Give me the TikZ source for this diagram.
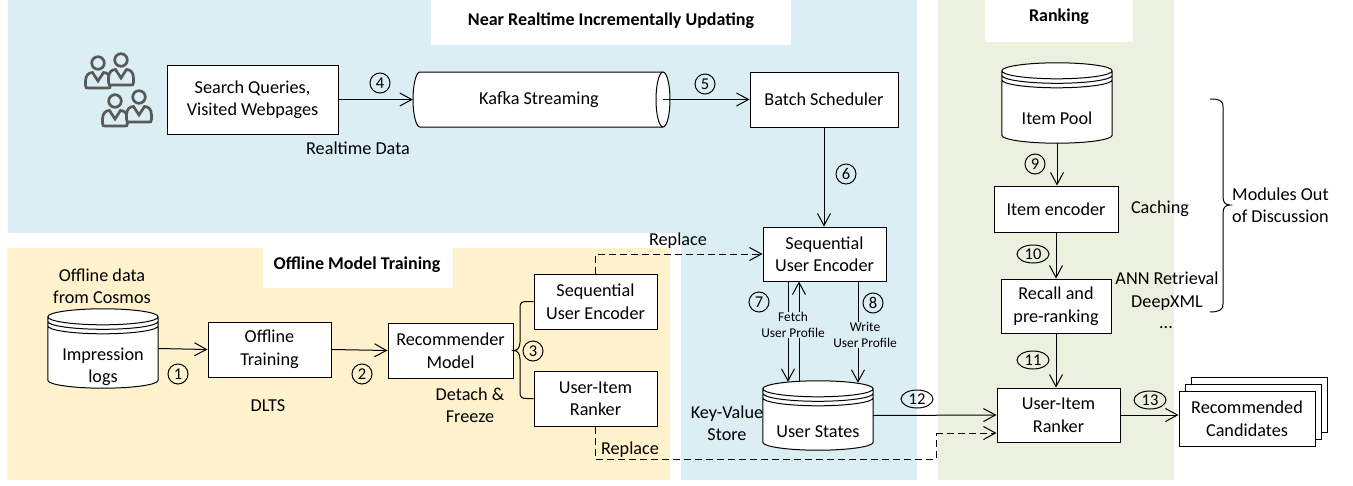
\documentclass[tikz,border=0pt]{standalone}
\usepackage{fontspec}
\setmainfont{Carlito}
\usetikzlibrary{arrows.meta,calc,shapes.geometric}
\definecolor{bluebg}{HTML}{DAEEF3}
\definecolor{yelbg}{HTML}{FFF2CC}
\definecolor{grnbg}{HTML}{EBF1DE}
\definecolor{icongray}{HTML}{595959}
\newcommand{\fmain}{\fontsize{18.2}{22.5}\selectfont}
\newcommand{\fsmall}{\fontsize{13.4}{15.5}\selectfont}
\newcommand{\fbold}{\fontsize{18}{22}\selectfont\bfseries}
\newcommand{\fnum}{\fontsize{16.5}{16.5}\selectfont}
\newcommand{\DBcyl}[1]{%
  \draw[line width=1pt, fill=white] let \p1=(#1.north west), \p2=(#1.south east), \n1={(\x2-\x1)/2} in
    (\x1,\y1-8pt) -- (\x1,\y2+8pt)
    arc[start angle=180, end angle=360, x radius=\n1, y radius=8pt]
    -- (\x2,\y1-8pt)
    arc[start angle=0, end angle=180, x radius=\n1, y radius=8pt] -- cycle
    (\x1,\y1-8pt) arc[start angle=180, end angle=360, x radius=\n1, y radius=8pt]
    (\x1,\y1-12.5pt) arc[start angle=180, end angle=360, x radius=\n1, y radius=8pt]
    (\x1,\y1-17pt) arc[start angle=180, end angle=360, x radius=\n1, y radius=8pt];
}
\tikzset{
  box/.style={draw, line width=1pt, fill=white, align=center, font=\fmain, inner sep=0},
  lbl/.style={align=center, font=\fmain, inner sep=0},
  slbl/.style={align=center, font=\fsmall, inner sep=1pt, fill=bluebg},
  ttl/.style={font=\fbold, inner sep=0},
  numc/.style={draw, circle, line width=1pt, minimum size=20, inner sep=0, font=\fnum},
  nume/.style={draw, ellipse, line width=1pt, minimum width=32, minimum height=18, inner sep=0, font=\fnum},
  arr/.style={line width=1pt, -{Straight Barb[length=12pt,width=13pt]}},
  conn/.style={line width=1pt},
  dasharr/.style={line width=1pt, dash pattern=on 7pt off 4pt, -{Straight Barb[length=12pt,width=13pt]}},
  dashln/.style={line width=1pt, dash pattern=on 7pt off 4pt},
  cylbase/.style={inner sep=0},
  person/.pic={
    \draw[icongray, line width=2.7pt, fill=bluebg] (-12.5,22) -- (-12.5,18) .. controls (-12.5,12) and (-9,9.5) .. (-5.5,9.5) -- (0,18) -- (5.5,9.5) .. controls (9,9.5) and (12.5,12) .. (12.5,18) -- (12.5,22) .. controls (12.5,25) and (11.5,25) .. (10,25) -- (-10,25) .. controls (-11.5,25) and (-12.5,25) .. (-12.5,22) -- cycle;
    \draw[icongray, line width=2.7pt, fill=bluebg] (0,0) circle[radius=6.3pt];
  }
}
\begin{document}
\begin{tikzpicture}[x=1pt,y=-1pt]
\useasboundingbox (0,0) rectangle (1353,485);
% backgrounds
\fill[bluebg] (8,0) rectangle (917,233);
\fill[bluebg] (681,233) rectangle (917,480);
\fill[yelbg] (7,248) rectangle (670,480);
\fill[grnbg] (938,0) rectangle (1174,480);
\fill[white] (431,0) rectangle (791,45);
\fill[white] (263,248) rectangle (453,288);
\fill[white] (985,0) rectangle (1133,42);
\node[ttl] (t1) at (611,21) {Near Realtime Incrementally Updating};
\node[ttl] (t2) at (357,265) {Offline Model Training};
\node[ttl] (t3) at (1059,17) {Ranking};

% users icon
\pic at (98,63) {person};
\pic at (121,60) {person};
\pic at (115,101) {person};
\pic at (139,97) {person};

% top row
\node[box, minimum width=171, minimum height=69] (search) at (252.5,99.5) {Search Queries,\\Visited Webpages};
\node[lbl] (rtd) at (358,148) {Realtime Data};
\node[numc] (n4) at (380,83) {4};
\draw[line width=1pt, fill=white] (420,72) -- (663,72) arc[start angle=90, end angle=-90, x radius=7pt, y radius=27.5pt] -- (420,127) arc[start angle=270, end angle=90, x radius=7pt, y radius=27.5pt] -- cycle;
\draw[line width=1pt] (663,72) arc[start angle=90, end angle=270, x radius=7pt, y radius=27.5pt];
\node[cylbase, minimum width=257, minimum height=55] (kafka) at (541.5,99.5) {};
\node[lbl] (kafkatxt) at (539,99.5) {Kafka Streaming};
\node[numc] (n5) at (705,84) {5};
\node[box, minimum width=148, minimum height=55] (batch) at (824,99.5) {Batch Scheduler};
\node[numc] (n6) at (846,174) {6};
\draw[arr] (search.east) -- (kafka.west);
\draw[arr] ($(kafka.east)+(-7,0)$) -- (batch.west);

% online encoder & user states
\node[box, minimum width=123, minimum height=54] (seqon) at (824.5,254) {Sequential\\User Encoder};
\draw[arr] (batch.south) -- (batch.south |- seqon.north);
\node[cylbase, minimum width=110, minimum height=69] (ust) at (818,415.5) {};
\DBcyl{ust}
\node[lbl] (usttxt) at (818,432) {User States};
\draw[arr] ([xshift=-36.5]seqon.south) -- ([xshift=-30,yshift=-1]ust.north);
\draw[arr] ([xshift=-19,yshift=-0.5]ust.north) -- ([xshift=-25.5]seqon.south);
\draw[arr] ([xshift=33.5]seqon.south) -- ([xshift=40,yshift=-2]ust.north);
\node[slbl] (fetch) at (793,325) {Fetch\\User Profile};
\node[slbl] (write) at (865,335) {Write\\User Profile};
\node[numc] (n7) at (759,302) {7};
\node[numc] (n8) at (873,303) {8};
\node[lbl] (kv) at (727,423) {Key-Value\\Store};
\node[nume] (n12) at (917,399) {12};

% offline
\node[lbl] (offdata) at (102,286) {Offline data\\from Cosmos};
\node[cylbase, minimum width=110, minimum height=79] (imp) at (103,348.5) {};
\DBcyl{imp}
\node[lbl] (imptxt) at (103,367) {Impression\\logs};
\node[box, minimum width=123, minimum height=55] (offtr) at (269.5,349.5) {Offline\\Training};
\node[numc] (n1) at (178,374) {1};
\node[lbl] (dlts) at (268,406) {DLTS};
\node[box, minimum width=125, minimum height=55] (recm) at (450.5,350.5) {Recommender\\Model};
\node[numc] (n2) at (362,374) {2};
\node[lbl] (detach) at (470,405) {Detach \&\\Freeze};
\node[box, minimum width=123, minimum height=55] (seqoff) at (595.5,301.5) {Sequential\\User Encoder};
\node[box, minimum width=123, minimum height=55] (rankoff) at (595.5,398.5) {User-Item\\Ranker};
\node[numc] (n3) at (533,351) {3};
\draw[arr] (imp.east) -- (offtr.west);
\draw[arr] (offtr.east) -- (recm.west);
\draw[conn] (seqoff.west) -- (526,301.5) .. controls (522,301.5) and (520,303) .. (520,307) -- (520,342) .. controls (520,348) and (517,350.5) .. (recm.east) .. controls (517,350.5) and (520,353) .. (520,359) -- (520,393) .. controls (520,397) and (522,398.5) .. (526,398.5) -- (rankoff.west);

% replace connectors
\node[lbl] (rep1) at (678,241) {Replace};
\node[lbl] (rep2) at (630,450) {Replace};
\coordinate (dA) at (936,459);
\coordinate (dB) at (936,433);

% ranking
\node[cylbase, minimum width=110, minimum height=80] (pool) at (1057,103) {};
\DBcyl{pool}
\node[lbl] (pooltxt) at (1057,118) {Item Pool};
\node[numc] (n9) at (1035,164) {9};
\node[box, minimum width=124, minimum height=46] (ienc) at (1056,209) {Item encoder};
\node[lbl] (cach) at (1160,209) {Caching};
\node[nume] (n10) at (1033,254) {10};
\node[box, minimum width=110, minimum height=54] (recall) at (1056,306) {Recall and\\pre-ranking};
\node[lbl] (ann) at (1167,291) {ANN Retrieval\\DeepXML};
\node[lbl, anchor=base] (dots) at (1166,328) {...};
\node[nume] (n11) at (1033,360) {11};
\node[box, minimum width=123, minimum height=54] (rankon) at (1058.5,415) {User-Item\\Ranker};
\node[nume] (n13) at (1150,400) {13};
\node[box, minimum width=136, minimum height=55] (rec3) at (1259,404.5) {};
\node[box, minimum width=136, minimum height=55] (rec2) at (1253,411.5) {};
\node[box, minimum width=136, minimum height=55] (rec) at (1247,418.5) {Recommended\\Candidates};
\draw[arr] (pool.south) -- (pool.south |- ienc.north);
\draw[arr] (ienc.south) -- (ienc.south |- recall.north);
\draw[arr] (recall.south) -- (recall.south |- rankon.north);
\draw[arr] (rankon.east) -- (rankon.east -| rec.west);
\draw[arr] (ust.east) -- (rankon.west);
\draw[dasharr] (seqoff.north) |- (seqon.west);
\draw[dashln] (rankoff.south) |- (dA) -- (dB);
\draw[dasharr] (dB) -- (dB -| rankon.west);

% brace
\draw[conn] (1210,99) .. controls (1219,99) and (1223,100) .. (1223,107) -- (1223,197) .. controls (1223,203) and (1226,205) .. (1230,205) .. controls (1226,205) and (1223,207) .. (1223,213) -- (1223,304) .. controls (1223,310) and (1219,312) .. (1210,312);
\node[lbl, align=left, anchor=west] (mod) at (1232,205) {Modules Out\\of Discussion};
\end{tikzpicture}
\end{document}
